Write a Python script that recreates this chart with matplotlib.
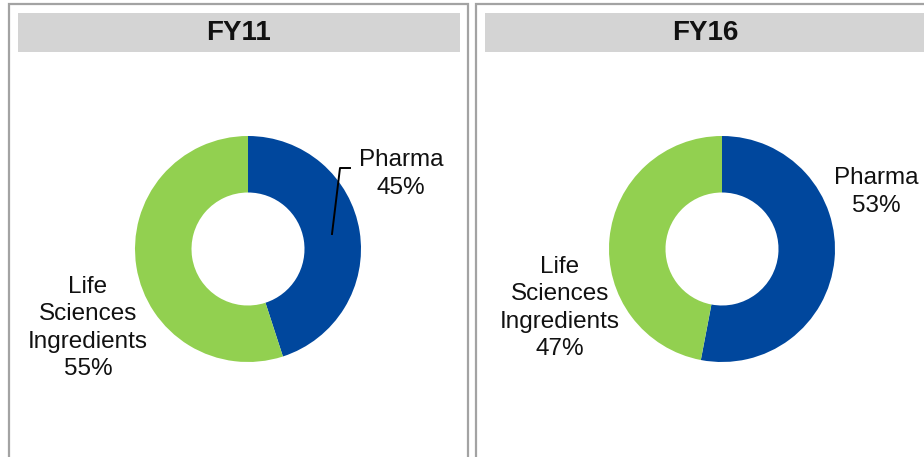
import matplotlib
matplotlib.use("Agg")
import matplotlib.pyplot as plt
from matplotlib.patches import Rectangle

plt.rcParams['font.family'] = ['Liberation Sans', 'DejaVu Sans']

# data
years = ["FY11", "FY16"]
categories = ["Pharma", "Life\nSciences\nIngredients"]
shares = {"FY11": [45, 55], "FY16": [53, 47]}
colors = ["#00479D", "#92D050"]

W, H = 924, 457
fig = plt.figure(figsize=(W / 100, H / 100), dpi=100)
ax = fig.add_axes([0, 0, 1, 1])


def fy(y):
    # image y (top-down) to axes y (bottom-up)
    return H - y


# panel frames and header bars
panels = [(9, 468), (476, 940)]
headers = [(18, 460), (485, 928)]
for (x0, x1) in panels:
    ax.plot([x0, x0, x1, x1], [fy(H + 5), fy(4), fy(4), fy(H + 5)],
            color="#a3a3a3", lw=1.6, solid_joinstyle="miter", zorder=1)
for (x0, x1), year in zip(headers, years):
    ax.add_patch(Rectangle((x0, fy(52)), x1 - x0, 39, facecolor="#d4d4d4",
                           edgecolor="none", zorder=2))
    ax.text((x0 + x1) / 2 - 1, fy(33), year, ha="center", va="center",
            fontsize=20, fontweight="bold", color="#111111", zorder=3)

# donuts
centers = [(248, 249), (722, 249)]
R = 113
for year, (cx, cy) in zip(years, centers):
    ax.pie(shares[year], colors=colors, startangle=90, counterclock=False,
           center=(cx, fy(cy)), radius=R, frame=True,
           wedgeprops=dict(width=R * 0.5, edgecolor="none"))

# labels
label_pos = {
    "FY11": [(401, 174), (88, 328)],
    "FY16": [(876, 192), (560, 308)],
}
for year in years:
    for cat, val, (lx, ly) in zip(categories, shares[year], label_pos[year]):
        ax.text(lx, fy(ly), f"{cat}\n{val}%", ha="center", va="center",
                fontsize=17.5, linespacing=1.31, color="#111111", zorder=4)

# leader line for FY11 Pharma
ax.plot([350, 340, 332], [fy(168), fy(168), fy(234)], color="black", lw=1.4,
        zorder=4)

ax.set_xlim(0, W)
ax.set_ylim(0, H)
ax.set_aspect("auto")
ax.axis("off")

fig.savefig("out.png", dpi=100, facecolor="white")
